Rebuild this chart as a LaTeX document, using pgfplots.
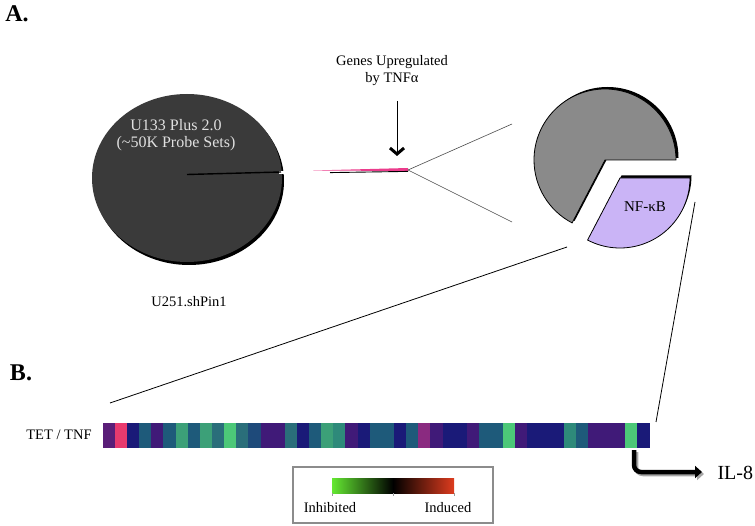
\documentclass[border=0pt]{standalone}
\usepackage{pgfplots}
\pgfplotsset{compat=1.18}
\usepackage{pgfplotstable}
\usepackage{fontspec}
\setmainfont{Liberation Serif}
\usetikzlibrary{arrows.meta}

% heat strip: cell index i, row r (pixel y), colour class c
\pgfplotstableread{
i r c
1 429 8
2 429 10
3 429 6
4 429 4
5 429 7
6 429 4
7 429 1
8 429 4
9 429 1
10 429 3
11 429 0
12 429 3
13 429 5
14 429 7
15 429 7
16 429 3
17 429 6
18 429 4
19 429 1
20 429 2
21 429 7
22 429 6
23 429 4
24 429 4
25 429 6
26 429 4
27 429 9
28 429 7
29 429 6
30 429 6
31 429 7
32 429 4
33 429 4
34 429 0
35 429 7
36 429 6
37 429 6
38 429 6
39 429 2
40 429 4
41 429 7
42 429 7
43 429 7
44 429 0
45 429 6
1 441 8
2 441 10
3 441 6
4 441 4
5 441 7
6 441 4
7 441 1
8 441 4
9 441 1
10 441 3
11 441 0
12 441 3
13 441 5
14 441 7
15 441 7
16 441 3
17 441 6
18 441 4
19 441 1
20 441 2
21 441 7
22 441 6
23 441 4
24 441 4
25 441 6
26 441 4
27 441 9
28 441 7
29 441 6
30 441 6
31 441 7
32 441 4
33 441 4
34 441 0
35 441 7
36 441 6
37 441 6
38 441 6
39 441 2
40 441 4
41 441 7
42 441 7
43 441 7
44 441 0
45 441 6
}\striptab

\definecolor{piedark}{RGB}{58,58,58}
\definecolor{piegray}{RGB}{138,138,138}
\definecolor{lav}{RGB}{202,180,246}
\definecolor{pinkline}{RGB}{235,60,140}
\definecolor{cbgreen}{RGB}{100,232,50}
\definecolor{cbred}{RGB}{222,60,30}

\begin{document}
\begin{tikzpicture}
\useasboundingbox (0,0) rectangle (755pt,526pt);
\begin{axis}[
  at={(0,0)}, anchor=south west,
  width=755pt, height=526pt, scale only axis,
  xmin=0, xmax=755, ymin=0, ymax=526, y dir=reverse,
  hide axis, clip=false,
  colormap={strip}{rgb255=(76,200,120) rgb255=(60,160,120) rgb255=(46,138,122)
    rgb255=(42,110,122) rgb255=(30,90,122) rgb255=(30,74,122) rgb255=(26,26,120)
    rgb255=(64,26,120) rgb255=(90,30,120) rgb255=(138,42,128) rgb255=(232,58,110)},
  colormap access=direct,
]
% ---- heat strip
\addplot[matrix plot*, mesh/cols=45, point meta=explicit]
  table[x expr={103+12.1333*(\thisrow{i}-0.5)}, y=r, meta=c] {\striptab};

% ---- left pie
\fill[black] ([xshift=2pt,yshift=-3pt]axis cs:187,178) ellipse [x radius=95pt, y radius=84pt];
\fill[piedark] (axis cs:187,178) ellipse [x radius=95pt, y radius=84pt];
\fill[white] (axis cs:279,171.5) rectangle (axis cs:285,174.5);
\draw[black, line width=1.4pt] (axis cs:187,174.5) -- (axis cs:281,172);
\node[text=white!88!black, font=\fontsize{16}{18}\selectfont, align=center] at (axis cs:176,135)
  {U133 Plus 2.0\\[-1pt](\textasciitilde50K Probe Sets)};
\node[font=\fontsize{14.5}{16}\selectfont] at (axis cs:189,302) {U251.shPin1};

% ---- thin slice and fan lines
\fill[pinkline] (axis cs:313,170.5) -- (axis cs:408,168) -- (axis cs:408,171) -- cycle;
\draw[black, line width=0.9pt] (axis cs:330,172.6) -- (axis cs:408,171.4);
\draw[black!70, line width=0.6pt] (axis cs:408,170) -- (axis cs:512,124);
\draw[black!70, line width=0.6pt] (axis cs:408,170) -- (axis cs:512,222);

% ---- annotation arrow
\node[font=\fontsize{14.5}{17}\selectfont, align=center] at (axis cs:392,71)
  {Genes Upregulated\\by TNFα};
\draw[line width=1pt, -{Straight Barb[length=6pt,width=14pt,line width=3pt]}]
  (axis cs:397,101) -- (axis cs:397,156);

% ---- right pie
\fill[black] ([xshift=2.5pt,yshift=2pt]axis cs:605,160) -- ++(0:71pt) arc[start angle=0, end angle=242.4, radius=71pt] -- cycle;
\filldraw[fill=piegray, draw=black, line width=0.8pt] (axis cs:605,160) -- ++(0:71pt) arc[start angle=0, end angle=242.4, radius=71pt] -- cycle;
\fill[black] ([xshift=1.5pt,yshift=2.5pt]axis cs:620,178) -- ++(-117.6:70pt) arc[start angle=-117.6, end angle=0, radius=70pt] -- cycle;
\filldraw[fill=lav, draw=black, line width=0.8pt] (axis cs:620,178) -- ++(-117.6:70pt) arc[start angle=-117.6, end angle=0, radius=70pt] -- cycle;
\node[font=\fontsize{15}{17}\selectfont] at (axis cs:645,207) {NF-κB};

% ---- zoom lines to the strip
\draw[black, line width=0.8pt] (axis cs:110,403) -- (axis cs:567,247);
\draw[black, line width=0.8pt] (axis cs:695,202) -- (axis cs:656,422);

% ---- labels
\node[font=\bfseries\fontsize{24}{26}\selectfont] at (axis cs:17,14) {A.};
\node[font=\bfseries\fontsize{24}{26}\selectfont] at (axis cs:21,373) {B.};
\node[font=\fontsize{14.5}{16}\selectfont] at (axis cs:59,435) {TET / TNF};

% ---- IL-8 arrow
\draw[black!35, line width=4.5pt, rounded corners=7pt, -{Triangle[length=7pt,width=12pt]}]
  (axis cs:636,452) -- (axis cs:636,474) -- (axis cs:704,474);
\draw[black, line width=4.5pt, rounded corners=7pt, -{Triangle[length=7pt,width=12pt]}]
  (axis cs:634,450) -- (axis cs:634,472) -- (axis cs:702,472);
\node[font=\fontsize{20}{22}\selectfont, anchor=west] at (axis cs:714,473) {IL-8};

% ---- colour-scale legend
\draw[black!45, line width=1.2pt] (axis cs:293,467) rectangle (axis cs:493,523);
\shade[left color=cbgreen, right color=cbred, middle color=black]
  (axis cs:332,478) rectangle (axis cs:454,493);
\draw[black!40, line width=0.5pt] (axis cs:332,493) -- (axis cs:332,496)
  (axis cs:393,493) -- (axis cs:393,496) (axis cs:454,493) -- (axis cs:454,496);
\node[font=\fontsize{14.5}{16}\selectfont] at (axis cs:330,508) {Inhibited};
\node[font=\fontsize{14.5}{16}\selectfont] at (axis cs:448,508) {Induced};
\end{axis}
\end{tikzpicture}
\end{document}
